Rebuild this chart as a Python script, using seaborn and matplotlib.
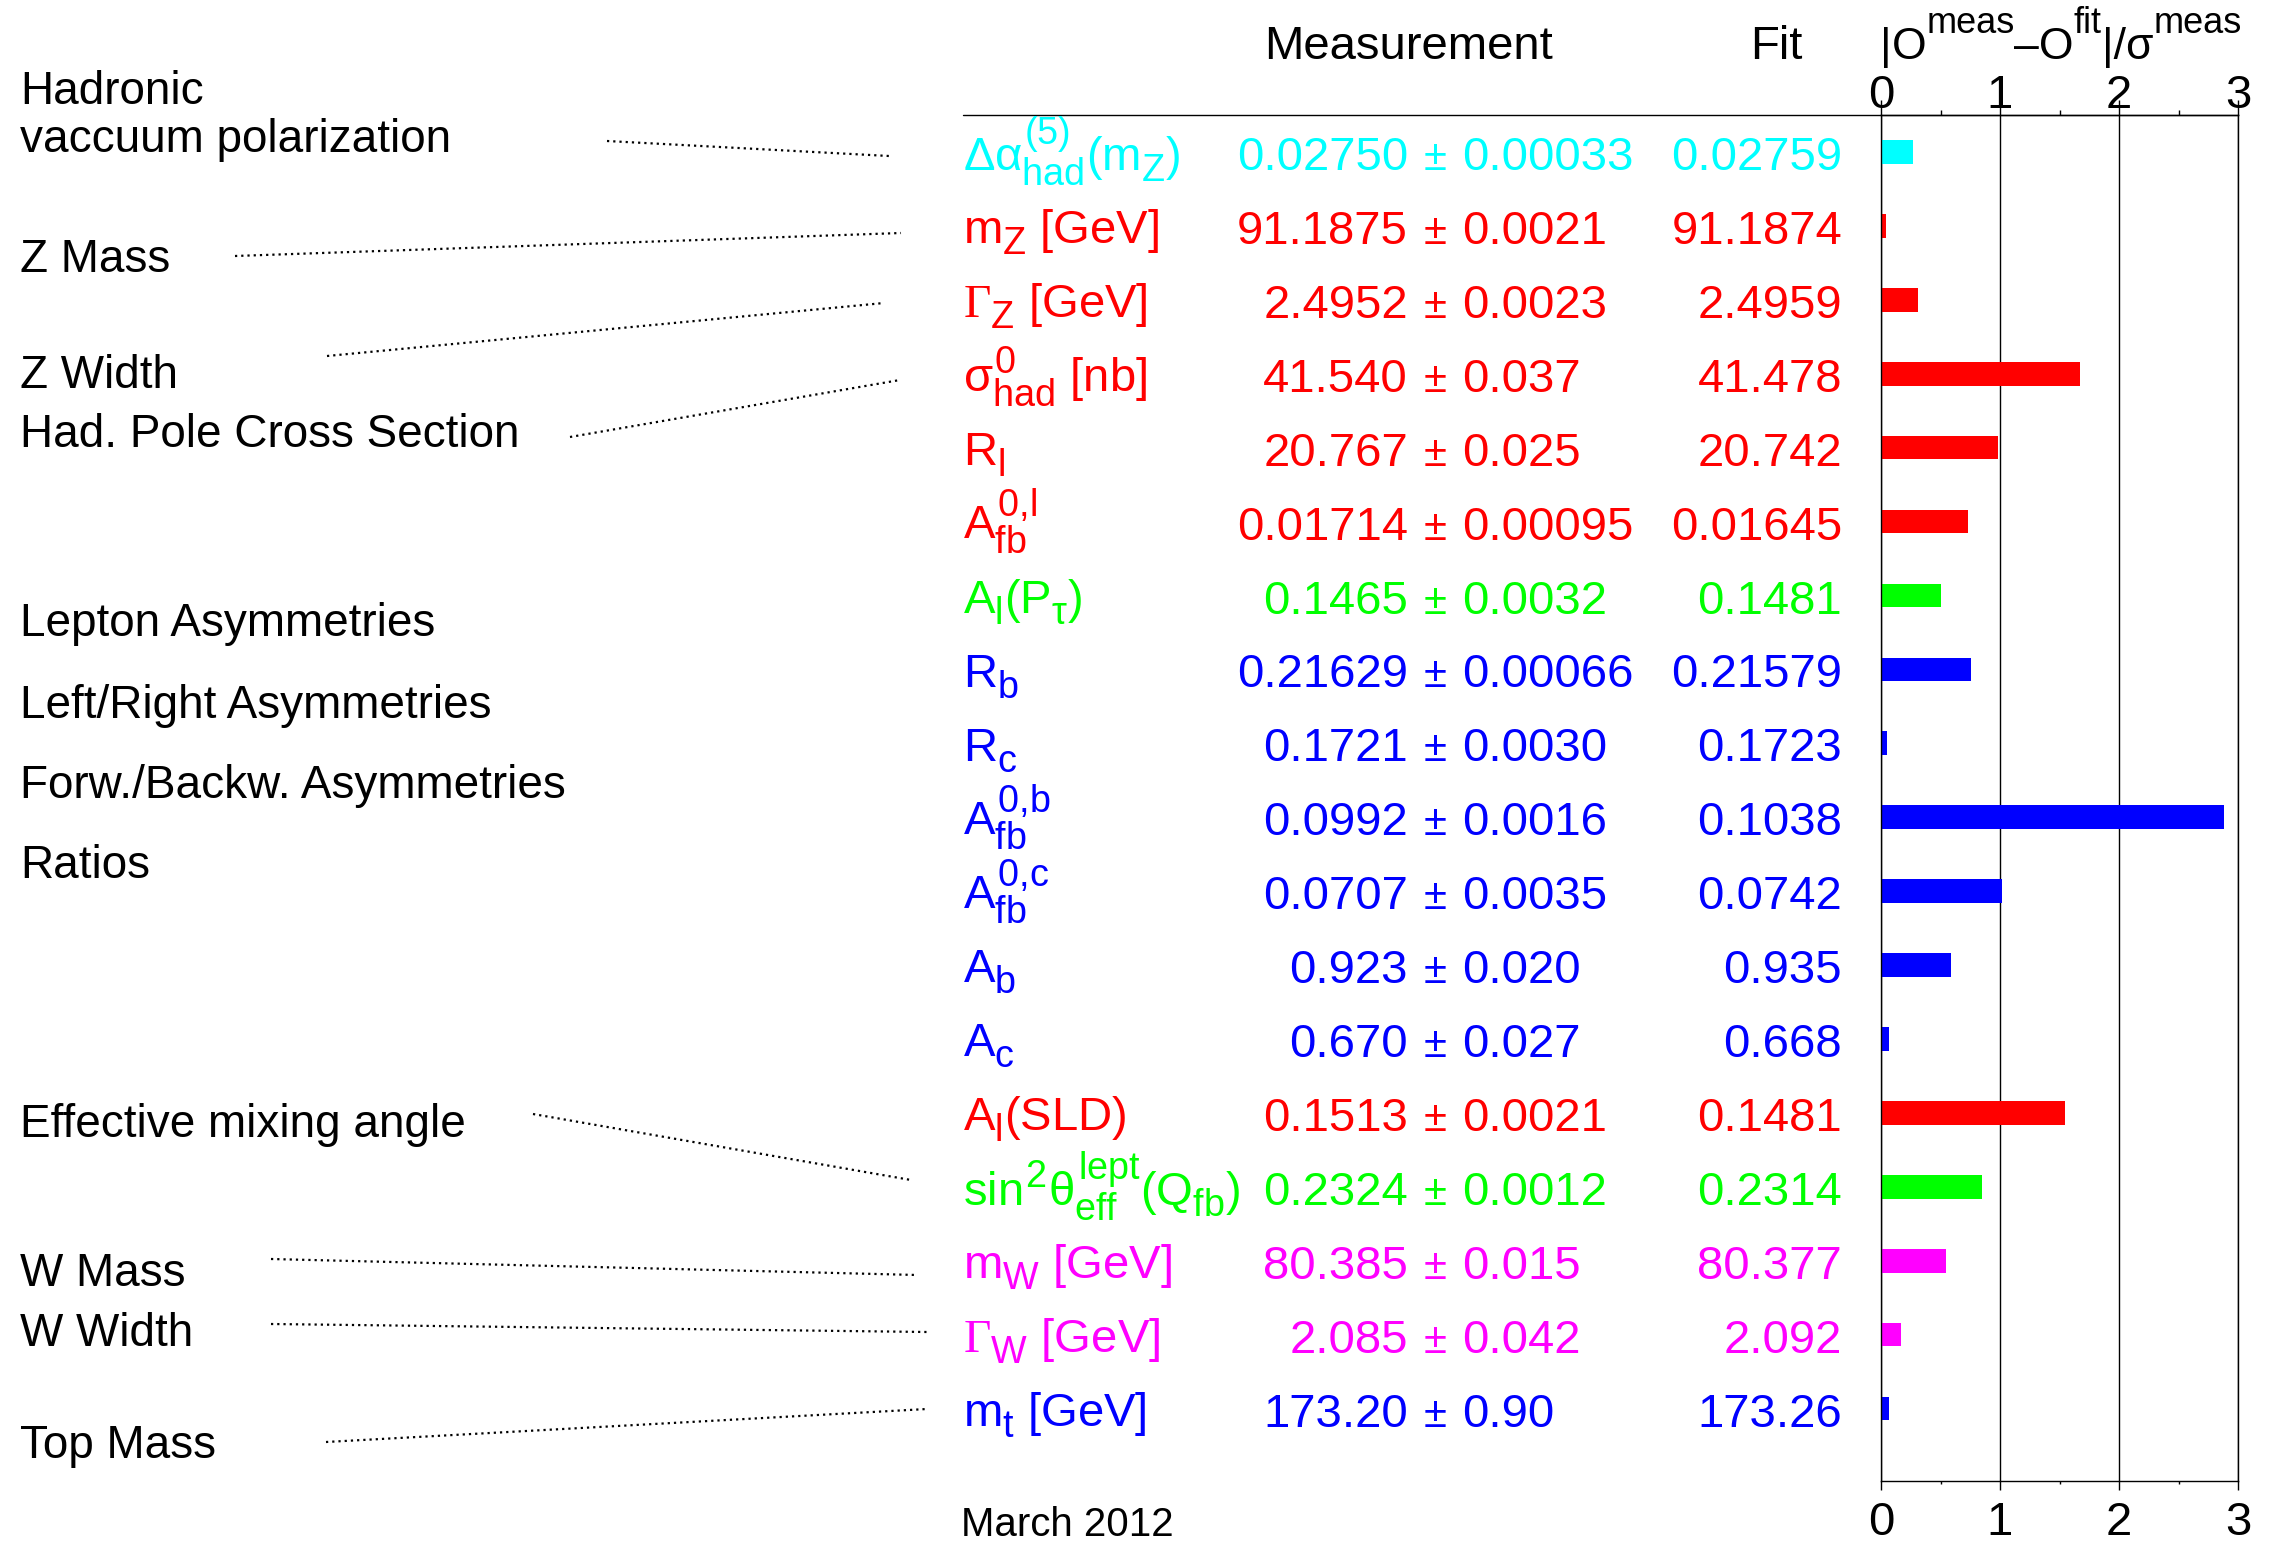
import numpy as np
import pandas as pd
import seaborn as sns
import matplotlib
matplotlib.use("Agg")
import matplotlib.pyplot as plt
from matplotlib.lines import Line2D
from matplotlib.transforms import blended_transform_factory

try:
    import matplotlib._mathtext as _mt
    _mt.SHRINK_FACTOR = 0.8
    _mt.FontConstantsBase.sub1 = 0.45
    _mt.FontConstantsBase.sub2 = 0.6
except Exception:
    pass

# ---------------- data ----------------
observables = ["dalpha", "mZ", "GZ", "sigma", "Rl", "Afbl", "AlPtau", "Rb", "Rc",
               "Afbb", "Afbc", "Ab", "Ac", "AlSLD", "sin2", "mW", "GW", "mt"]
obs_labels = [r"$\Delta\alpha^{(5)}_{had}(m_Z)$", r"$m_Z\ [GeV]$",
              r"$\mathtt{\Gamma}_Z\ [GeV]$",
              r"$\sigma^0_{had}\ [nb]$", r"$R_l$", r"$A^{0{,}l}_{fb}$", r"$A_l(P_\tau)$",
              r"$R_b$", r"$R_c$", r"$A^{0{,}b}_{fb}$", r"$A^{0{,}c}_{fb}$", r"$A_b$",
              r"$A_c$", r"$A_l(SLD)$", r"$sin^2\theta^{lept}_{eff}(Q_{fb})$",
              r"$m_W\ [GeV]$", r"$\mathtt{\Gamma}_W\ [GeV]$", r"$m_t\ [GeV]$"]
meas_values = ["0.02750", "91.1875", "2.4952", "41.540", "20.767", "0.01714", "0.1465",
               "0.21629", "0.1721", "0.0992", "0.0707", "0.923", "0.670", "0.1513",
               "0.2324", "80.385", "2.085", "173.20"]
meas_errors = ["0.00033", "0.0021", "0.0023", "0.037", "0.025", "0.00095", "0.0032",
               "0.00066", "0.0030", "0.0016", "0.0035", "0.020", "0.027", "0.0021",
               "0.0012", "0.015", "0.042", "0.90"]
fit_values = ["0.02759", "91.1874", "2.4959", "41.478", "20.742", "0.01645", "0.1481",
              "0.21579", "0.1723", "0.1038", "0.0742", "0.935", "0.668", "0.1481",
              "0.2314", "80.377", "2.092", "173.26"]
pulls = [0.27, 0.04, 0.31, 1.67, 0.98, 0.73, 0.50, 0.76, 0.05, 2.88, 1.02, 0.59, 0.07,
         1.55, 0.85, 0.55, 0.17, 0.07]
row_colors = ["#00FFFF", "#FF0000", "#FF0000", "#FF0000", "#FF0000", "#FF0000", "#00FF00",
              "#0000FF", "#0000FF", "#0000FF", "#0000FF", "#0000FF", "#0000FF", "#FF0000",
              "#00FF00", "#FF00FF", "#FF00FF", "#0000FF"]
x_ticks = [0, 1, 2, 3]
x_minor = [0.5, 1.5, 2.5]

group_labels = ["Hadronic\nvaccuum polarization", "Z Mass", "Z Width",
                "Had. Pole Cross Section", "Lepton Asymmetries", "Left/Right Asymmetries",
                "Forw./Backw. Asymmetries", "Ratios", "Effective mixing angle",
                "W Mass", "W Width", "Top Mass"]
header_meas = "Measurement"
header_fit = "Fit"
date_label = "March 2012"

# ---------------- layout (pixels) ----------------
W, H = 2271, 1545
group_baselines = [104, 272, 388, 447, 636, 718, 798, 878, 1137, 1286, 1346, 1458]
connectors = [(607, 141, 889, 156), (235, 256, 901, 233), (327, 356, 884, 303),
              (570, 437, 900, 380), (533, 1114, 911, 1180), (271, 1259, 917, 1275),
              (271, 1324, 927, 1332), (326, 1442, 927, 1409)]

sns.set_theme(style="white")
plt.rcParams["font.family"] = ["Liberation Sans", "DejaVu Sans"]
plt.rcParams["mathtext.fontset"] = "custom"
plt.rcParams["mathtext.rm"] = "Liberation Sans"
plt.rcParams["mathtext.it"] = "Liberation Sans"
plt.rcParams["mathtext.bf"] = "Liberation Sans:bold"
plt.rcParams["mathtext.sf"] = "Liberation Sans"
plt.rcParams["mathtext.tt"] = "Liberation Serif"

fig = plt.figure(figsize=(W / 100, H / 100), dpi=100)
ax = fig.add_axes([1881 / W, 1 - 1481 / H, (2238 - 1881) / W, (1481 - 115) / H])

df = pd.DataFrame({"obs": observables, "pull": pulls})
palette = dict(zip(observables, row_colors))
sns.barplot(data=df, x="pull", y="obs", hue="obs", order=observables,
            hue_order=observables, palette=palette, width=0.32, saturation=1,
            legend=False, ax=ax, linewidth=0)

ax.set_xlim(0, 3)
ax.set_ylim(17.98, -0.5)
ax.set_yticks([])
ax.set_xlabel("")
ax.set_ylabel("")
ax.set_xticks(x_ticks)
ax.set_xticks(x_minor, minor=True)
ax.tick_params(axis="x", which="major", bottom=True, top=False, direction="out",
               length=6.5, width=1.0, pad=8, labelsize=34, color="black",
               labelcolor="black")
ax.tick_params(axis="x", which="minor", bottom=True, top=False, direction="out",
               length=2.5, width=1.0, color="black")
ax.grid(axis="x", which="major", color="black", lw=1.0)
ax.grid(axis="y", visible=False)
ax.set_axisbelow(True)
for sp in ax.spines.values():
    sp.set_visible(True)
    sp.set_color("black")
    sp.set_linewidth(1.0)

sec = ax.secondary_xaxis("top")
sec.set_ticks(x_ticks)
sec.set_ticks(x_minor, minor=True)
sec.tick_params(which="major", direction="out", length=10.8, width=1.0, pad=-13,
                labelsize=34, color="black", labelcolor="black")
sec.tick_params(which="minor", direction="out", length=3.6, width=1.0, color="black")
sec.spines["top"].set_linewidth(1.0)
sec.spines["top"].set_color("black")

# top separator line across the table
fig.add_artist(Line2D([963 / W, 1881 / W], [1 - 115 / H] * 2, color="black", lw=1.0))

# table rows
tr = blended_transform_factory(fig.transFigure, ax.transData)
for i in range(len(observables)):
    y = i + 0.244
    c = row_colors[i]
    fig.text(963 / W, y, obs_labels[i], transform=tr, color=c, fontsize=34,
             ha="left", va="baseline")
    fig.text(1408 / W, y, meas_values[i], transform=tr, color=c, fontsize=34,
             ha="right", va="baseline")
    fig.text(1435 / W, y, "\u00b1", transform=tr, color=c, fontsize=30,
             ha="center", va="baseline")
    fig.text(1462 / W, y, meas_errors[i], transform=tr, color=c, fontsize=34,
             ha="left", va="baseline")
    fig.text(1842 / W, y, fit_values[i], transform=tr, color=c, fontsize=34,
             ha="right", va="baseline")

# headers
fig.text(1409 / W, 1 - 59 / H, header_meas, fontsize=34, ha="center", va="baseline",
         color="black")
fig.text(1803 / W, 1 - 59 / H, header_fit, fontsize=34, ha="right", va="baseline",
         color="black")

# pull axis title built piecewise (large superscripts)
renderer = fig.canvas.get_renderer()
pieces = [("|", 32, 0), ("O", 32, 0), ("meas", 26, 26), ("\u2013O", 32, 0),
          ("fit", 26, 26), ("|/\u03c3", 32, 0), ("meas", 26, 26)]
xpos = 1880
for s, size, raise_px in pieces:
    t = fig.text(xpos / W, 1 - (59 - raise_px) / H, s, fontsize=size, ha="left",
                 va="baseline", color="black")
    xpos += t.get_window_extent(renderer).width

# group labels
for lab, base in zip(group_labels, group_baselines):
    for k, line in enumerate(lab.split("\n")):
        fig.text(20 / W, 1 - (base + 48 * k) / H, line, fontsize=33, ha="left",
                 va="baseline", color="black")

for x1, y1, x2, y2 in connectors:
    fig.add_artist(Line2D([x1 / W, x2 / W], [1 - y1 / H, 1 - y2 / H], color="black",
                          lw=1.6, linestyle=(0, (1.0, 1.8))))

fig.text(961 / W, 1 - 1536 / H, date_label, fontsize=29, ha="left", va="baseline",
         color="black")

fig.savefig("out.png", dpi=100)
